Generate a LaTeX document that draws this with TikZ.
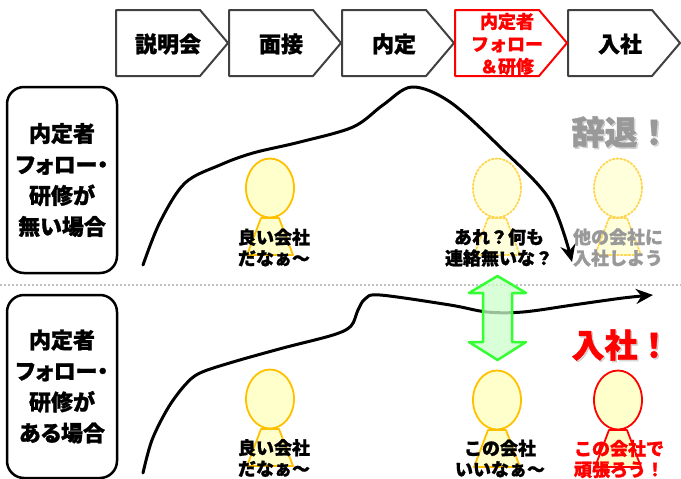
\documentclass[tikz,border=0pt]{standalone}
\usepackage{fontspec}
\newfontfamily\jp{Noto Sans CJK JP}[BoldFeatures={FakeBold=1.2}]
\newfontfamily\jpp{Noto Sans CJK JP}[RawFeature=+palt,BoldFeatures={FakeBold=1.2}]
\usetikzlibrary{arrows.meta}
\definecolor{chevgray}{HTML}{404040}
\definecolor{gold}{HTML}{FFC000}
\definecolor{goldlight}{HTML}{FFD54F}
\definecolor{headfill}{HTML}{FFFFCC}
\definecolor{txtgray}{HTML}{999999}
\definecolor{arrgreen}{HTML}{33FF33}
\definecolor{arrfill}{HTML}{CCFFCC}
\begin{document}
\begin{tikzpicture}[x=1pt,y=-1pt,font=\jp\bfseries, line join=round, line cap=round, >={Stealth[length=17pt,width=15pt]},
	chev/.style={draw=chevgray,line width=2pt,fill=white},
	chevtxt/.style={inner sep=0pt,font=\jp\bfseries\fontsize{22}{26}\selectfont},
	casebox/.style={draw,line width=2.5pt,rounded corners=17pt,minimum width=110pt,inner sep=0pt,align=center,font=\jpp\bfseries\fontsize{22}{31}\selectfont},
	saytxt/.style={inner sep=0pt,align=center,font=\jp\bfseries\fontsize{18}{21}\selectfont},
	bigtxt/.style={inner sep=0pt,font=\jp\bfseries\fontsize{33}{36}\selectfont},
	pgold/.style={draw=gold,line width=1.8pt,fill=headfill},
	pfaint/.style={draw=goldlight,line width=1.8pt,dotted,fill=headfill!70},
	pred/.style={draw=red,line width=1.8pt,fill=headfill}]
	\useasboundingbox (0,0) rectangle (681,479);
	%\draw[thin,color=gray!50] (0,0) grid[step=50pt] (681,479);
	\foreach \i/\t in {0/説明会,1/面接,2/内定,4/入社}{
		\draw[chev] ({116+113*\i},10) -- ++(84,0) -- ++(28,33) -- ++(-28,33) -- ++(-84,0) -- cycle;
		\node[chevtxt] (step\i) at ({168+113*\i},44) {\t};
	}
	\draw[chev,draw=red] (455,10) -- ++(84,0) -- ++(28,33) -- ++(-28,33) -- ++(-84,0) -- cycle;
	\node[chevtxt,align=center,text=red,font=\jp\bfseries\fontsize{18}{22.5}\selectfont] (step3) at (507,44) {内定者\\フォロー\\＆研修};
	\node[casebox,minimum height=186pt] (case1) at (62,180) {内定者\\フォロー・\\研修が\\無い場合};
	\node[casebox,minimum height=183pt] (case2) at (62,386.5) {内定者\\フォロー・\\研修が\\ある場合};
	\draw[gray!50,line width=2pt,dash pattern=on 2pt off 2pt,line cap=butt] (0,285)--(681,285);
	% persons
	\foreach \x/\y/\s in {270/188/pgold,497/188/pfaint,618/188/pfaint,270/399/pgold,497/400/pgold,618/400/pred}{
		\draw[\s] (\x-9,\y+30)--(\x+9,\y+30)--(\x+23,\y+67)--(\x-23,\y+67)--cycle;
		\draw[\s] (\x,\y) ellipse[x radius=24pt,y radius=29.5pt];
	}
	\node[saytxt] (say1) at (274,247.5) {良い会社\\だなぁ〜};
	\node[saytxt] (say2) at (499,247.5) {あれ？何も\\連絡無いな？};
	\node[saytxt,text=txtgray] (say3) at (618,247.5) {他の会社に\\入社しよう};
	\node[saytxt] (say4) at (274,458) {良い会社\\だなぁ〜};
	\node[saytxt] (say5) at (500,458.5) {この会社\\いいなぁ〜};
	\node[saytxt,text=red] (say6) at (619,459) {この会社で\\頑張ろう！};
	\node[bigtxt,text=black,opacity=0.15] at (622.5,133.5) {辞退！};
	\node[bigtxt,text=txtgray] (quit) at (621,132) {辞退！};
	\node[bigtxt,text=black,opacity=0.15] at (622.5,346.5) {入社！};
	\node[bigtxt,text=red] (join) at (621,345) {入社！};
	% curves
	\draw[->,line width=3pt] plot[smooth,tension=0.55] coordinates {(143,265) (160,222) (185,183) (220,165) (253,153) (300,142) (353,127) (383,105) (412,87) (450,102) (500,147) (550,200) (572,262)};
	\draw[->,line width=3pt] plot[smooth,tension=0.55] coordinates {(143,473) (152,440) (168,408) (185,385) (200,373) (233,362) (283,348) (333,335) (351,326) (358,310) (365,299) (380,295) (450,305) (487,312) (523,312) (573,305) (623,298) (653,295)};
	\draw[draw=arrgreen,line width=2.5pt,fill=arrfill,fill opacity=0.75] (497.5,276)--(526,293)--(512,293)--(512,342)--(526,342)--(497.5,360)--(469,342)--(483,342)--(483,293)--(469,293)--cycle;
\end{tikzpicture}
\end{document}
